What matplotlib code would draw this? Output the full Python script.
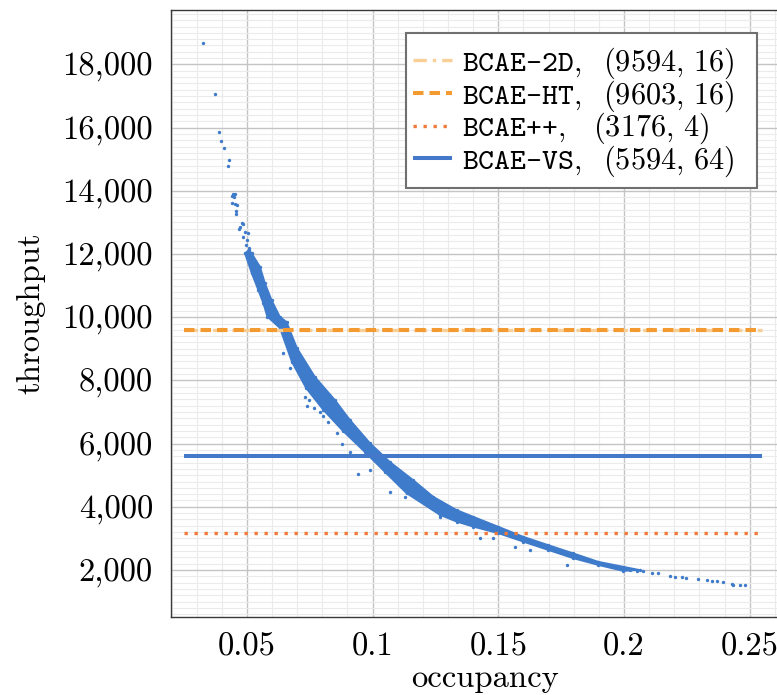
import matplotlib
matplotlib.use("Agg")
import matplotlib.pyplot as plt
from matplotlib.patches import Rectangle
from matplotlib.ticker import MultipleLocator, FixedLocator, FixedFormatter

plt.rcParams['mathtext.fontset'] = 'cm'

# ---------------- data ----------------
models = ["BCAE-2D", "BCAE-HT", "BCAE++", "BCAE-VS"]
model_throughput = [9594, 9603, 3176, 5594]
model_params = [16, 16, 4, 64]
line_occ_range = [0.025, 0.255]

# sparse points at low occupancy
top_occ = [0.0326, 0.0372, 0.0389, 0.0398, 0.0407, 0.0427, 0.0424,
           0.0446, 0.0452, 0.0448, 0.0440, 0.0439, 0.0452, 0.0460,
           0.0456, 0.0456, 0.0479, 0.0483, 0.0472, 0.0469, 0.0492,
           0.0484, 0.0504, 0.0500, 0.0496, 0.0508]
top_thr = [18689, 17066, 15853, 15568, 15347, 14967, 14797,
           13900, 13900, 13815, 13837, 13606, 13575, 13543,
           13372, 13267, 12992, 12951, 12856, 12793, 12698,
           12539, 12667, 12445, 12286, 12191]

# outline of the dense band of points (upper/right edge, then lower/left edge)
band_upper_occ = [0.0508, 0.0519, 0.0552, 0.0572, 0.0598, 0.0631, 0.0658,
                  0.0699, 0.0770, 0.0850, 0.0910, 0.0989, 0.1069, 0.1161,
                  0.1241, 0.1334, 0.1400, 0.1500, 0.1599, 0.1698, 0.1798,
                  0.1897, 0.1997, 0.2063]
band_upper_thr = [12128, 12023, 11599, 11074, 10546, 10017, 9849,
                  9026, 8118, 7381, 6748, 6020, 5418, 4849,
                  4320, 3899, 3687, 3370, 3054, 2791, 2529,
                  2263, 2104, 2000]
band_lower_occ = [0.1997, 0.1897, 0.1798, 0.1698, 0.1599, 0.1500, 0.1400,
                  0.1334, 0.1268, 0.1135, 0.1049, 0.0969, 0.0882, 0.0804,
                  0.0735, 0.0679, 0.0631, 0.0581, 0.0565, 0.0545, 0.0519,
                  0.0492]
band_lower_thr = [1968, 2158, 2370, 2633, 2896, 3162, 3370,
                  3529, 3741, 4428, 5102, 5735, 6399, 7064,
                  7760, 8583, 9659, 10017, 10441, 10862, 11391,
                  12023]

# scattered outliers below the band
outlier_occ = [0.0644, 0.0671, 0.0731, 0.0747, 0.0737, 0.0765, 0.0790,
               0.0803, 0.0823, 0.0857, 0.0877, 0.0910, 0.0943, 0.0989,
               0.1069, 0.1128, 0.1268, 0.1427, 0.1480, 0.1566, 0.1626,
               0.1772]
outlier_thr = [8859, 8384, 7460, 7381, 7175, 7127, 7010,
               6874, 6668, 6327, 5972, 5744, 5032, 5165,
               4469, 4320, 3687, 3003, 3003, 2737, 2633,
               2158]

# sparse tail at high occupancy
tail_occ = [0.1997, 0.2023, 0.2050, 0.2076, 0.2110, 0.2136, 0.2183,
            0.2203, 0.2229, 0.2246, 0.2295, 0.2329, 0.2348, 0.2368,
            0.2395, 0.2428, 0.2434, 0.2461, 0.2481]
tail_thr = [2022, 2000, 1978, 1959, 1915, 1896, 1820,
            1778, 1778, 1756, 1725, 1684, 1661, 1652,
            1611, 1557, 1535, 1525, 1516]

x_ticks = [0.05, 0.1, 0.15, 0.2, 0.25]
x_tick_labels = ["0.05", "0.1", "0.15", "0.2", "0.25"]
y_ticks = [2000, 4000, 6000, 8000, 10000, 12000, 14000, 16000, 18000]
y_tick_labels = ["2,000", "4,000", "6,000", "8,000", "10,000",
                 "12,000", "14,000", "16,000", "18,000"]

# ---------------- styles ----------------
pt_blue = "#3F7BCB"
line_styles = [
    dict(color="#F9CF98", ls=(0, (4, 1.8, 1, 1.8)), lw=2.4, zorder=4),
    dict(color="#F39A30", ls=(0, (2.6, 1.5)), lw=2.9, zorder=5),
    dict(color="#EF7A3A", ls=(0, (1, 2)), lw=2.4, zorder=5),
    dict(color="#4479C9", ls="-", lw=2.9, zorder=5),
]
label_pad = {"BCAE-2D": r"\ \;", "BCAE-HT": r"\ \;", "BCAE++": r"\ \;\:", "BCAE-VS": r"\ \;"}

W, H = 777, 695
fig = plt.figure(figsize=(W / 100, H / 100), dpi=100)
ax_left, ax_bottom, ax_w, ax_h = 171, 78, 629, 607
ax = fig.add_axes([ax_left / W, ax_bottom / H, ax_w / W, ax_h / H])
ax.set_xlim(0.0198, 0.0198 + ax_w / 2514)
ax.set_ylim(512, 512 + ax_h * 31.65)

# grid
ax.xaxis.set_minor_locator(MultipleLocator(0.01))
ax.yaxis.set_minor_locator(MultipleLocator(200))
ax.grid(which='major', color='#c4c4c4', lw=1.0)
ax.grid(which='minor', color='#ebebeb', lw=0.8)
ax.set_axisbelow(True)

ax.xaxis.set_major_locator(FixedLocator(x_ticks))
ax.xaxis.set_major_formatter(FixedFormatter(x_tick_labels))
ax.yaxis.set_major_locator(FixedLocator(y_ticks))
ax.yaxis.set_major_formatter(FixedFormatter(y_tick_labels))
ax.tick_params(which='both', length=0)
ax.tick_params(axis='y', pad=13)
ax.tick_params(axis='x', pad=11)
for lab in ax.get_xticklabels() + ax.get_yticklabels():
    lab.set_fontfamily('cmr10')
    lab.set_fontsize(23.5)
for s in ax.spines.values():
    s.set_color('#3a3a3a')
    s.set_linewidth(1.0)

# scatter data
band_x = band_upper_occ + band_lower_occ
band_y = band_upper_thr + band_lower_thr
ax.fill(band_x, band_y, color=pt_blue, lw=1.2, ec=pt_blue, zorder=2)
ax.scatter(top_occ, top_thr, s=6, color=pt_blue, lw=0, zorder=3)
ax.scatter(outlier_occ, outlier_thr, s=6, color=pt_blue, lw=0, zorder=3)
ax.scatter(tail_occ, tail_thr, s=6, color=pt_blue, lw=0, zorder=3)
ax.scatter(band_x, band_y, s=6, color=pt_blue, lw=0, zorder=3)

# reference model lines
for name, thr, p, st in zip(models, model_throughput, model_params, line_styles):
    label = name + r"$," + label_pad[name] + r"(" + str(thr) + r",\," + str(p) + r")$"
    ax.plot(line_occ_range, [thr, thr], label=label, solid_capstyle='butt',
            dash_capstyle='butt', **st)

ax.set_xlabel("occupancy", fontfamily='cmr10', fontsize=23.5, labelpad=2)
ax.set_ylabel("throughput", fontfamily='cmr10', fontsize=23.5, labelpad=12)

# legend frame drawn explicitly, legend entries without frame
frame = Rectangle((406 / W, 1 - 188 / H), (757 - 406) / W, (188 - 32.7) / H,
                  transform=fig.transFigure, facecolor='white',
                  edgecolor='#707070', lw=1.5, zorder=9)
fig.patches.append(frame)
leg = fig.legend(*ax.get_legend_handles_labels(), loc='upper left',
                 bbox_to_anchor=(413 / W, 1 - 45.5 / H),
                 bbox_transform=fig.transFigure, borderaxespad=0,
                 prop={'family': 'cmtt10', 'size': 21.8},
                 frameon=False, handlelength=1.28, handletextpad=0.33,
                 labelspacing=-0.09, borderpad=0)
leg.set_zorder(10)

fig.savefig("out.png", dpi=100)
